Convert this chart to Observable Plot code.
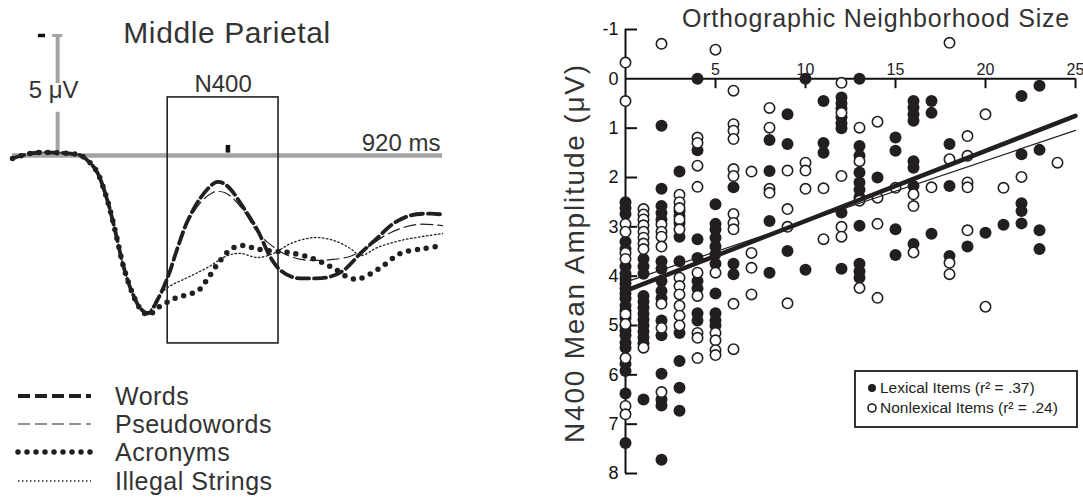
<!DOCTYPE html>
<html>
<head>
<meta charset="utf-8">
<script src="https://cdn.jsdelivr.net/npm/d3@7"></script>
<script src="https://cdn.jsdelivr.net/npm/@observablehq/plot@0.6"></script>
<style>
  html, body { margin: 0; padding: 0; background: #fff; }
  #wrap { position: relative; width: 1083px; height: 497px; background: #fff; overflow: hidden; }
  #left { position: absolute; left: 0; top: 0; }
  #right { position: absolute; left: 540px; top: 0; }
  #overlay { position: absolute; left: 0; top: 0; pointer-events: none; }
</style>
</head>
<body>
<div id="wrap">
  <div id="left"></div>
  <div id="right"></div>
  <svg id="overlay" width="1083" height="497"></svg>
</div>
<script>
const FONT = "'Liberation Sans', Arial, Helvetica, sans-serif";
const INK = "#231f20";

// ---------- Left panel: ERP waveforms (ms, µV; negative plotted up) ----------
const conditions = ["Words", "Pseudowords", "Acronyms", "Illegal Strings"];

const wordsMs  = [-108,-60,-10,30,55,79,96,119,139,158,179,198,217,239,263,287,311,342,370,382,395,413,444,478,509,533,564,605,645,683,724,765,803,843,891,920];
const wordsUv  = [0.12,-0.1,-0.12,-0.08,0,0.33,0.75,1.88,3.25,4.67,5.75,6.37,6.58,6.0,5.08,3.83,2.71,1.75,1.2,1.1,1.15,1.4,2.17,3.12,4.25,4.79,5.08,5.12,5.08,4.79,4.08,3.42,2.83,2.5,2.42,2.46];

const pseudoMs = [-108,-60,-10,30,55,79,96,119,139,158,179,198,217,239,263,287,311,342,370,382,400,420,444,478,502,540,581,621,660,700,741,779,820,860,920];
const pseudoUv = [0.12,-0.1,-0.12,-0.08,0,0.33,0.75,1.88,3.25,4.67,5.75,6.37,6.55,5.95,5.05,3.85,2.8,1.95,1.55,1.5,1.55,1.8,2.29,3.2,3.62,4.08,4.33,4.37,4.33,4.2,3.83,3.37,3.04,2.87,2.92];

const acroMs   = [-108,-60,-10,30,55,79,96,119,139,158,179,198,217,239,263,287,311,337,360,385,416,445,473,510,552,609,657,700,724,772,820,875,920];
const acroUv   = [0.12,-0.1,-0.12,-0.08,0,0.33,0.75,1.88,3.25,4.67,5.75,6.4,6.65,6.35,6.1,5.9,5.8,5.62,5.1,4.46,3.88,3.75,3.88,3.98,4.04,4.29,4.67,5.12,5.12,4.67,4.08,3.88,3.75];

const illegalMs = [-108,-60,-10,30,55,79,96,119,139,158,179,198,217,240,263,311,358,406,437,478,516,557,612,660,700,724,765,820,920];
const illegalUv = [0.12,-0.1,-0.12,-0.08,0,0.33,0.75,1.88,3.25,4.67,5.75,6.37,6.5,5.9,5.5,5.08,4.67,4.17,4.08,4.25,4.08,3.67,3.42,3.54,3.88,4.17,3.83,3.54,3.25];

const epochMs = [-108, 920];
const n400WindowMs = [263, 528];
const n400BoxUv = [-2.42, 7.83];
const scaleBarUv = [-5, 0];
const markerMs = [407];

const series = (ms, uv) => ms.map((t, i) => ({t, v: uv[i]}));
const words = series(wordsMs, wordsUv);
const pseudo = series(pseudoMs, pseudoUv);
const acro = series(acroMs, acroUv);
const illegal = series(illegalMs, illegalUv);

const lineStyles = {
  "Words":           {stroke: INK, strokeWidth: 3.8, strokeDasharray: "12,5"},
  "Pseudowords":     {stroke: INK, strokeWidth: 1.2, strokeDasharray: "12,5"},
  "Acronyms":        {stroke: INK, strokeWidth: 5.5, strokeDasharray: "0,9", strokeLinecap: "round"},
  "Illegal Strings": {stroke: INK, strokeWidth: 1.3, strokeDasharray: "1.5,2.5"}
};

const GRAY = "#a3a3a3";
const leftPlot = Plot.plot({
  width: 450, height: 360,
  marginTop: 0, marginRight: 0, marginBottom: 0, marginLeft: 0,
  style: {fontFamily: FONT, background: "transparent", overflow: "visible"},
  x: {domain: epochMs, range: [12, 442], axis: null},
  y: {domain: [-5, 8.5], range: [35, 359], axis: null},
  marks: [
    Plot.ruleY([0], {x1: epochMs[0], x2: epochMs[1], stroke: GRAY, strokeWidth: 4.5}),
    Plot.ruleX([0], {y1: scaleBarUv[0], y2: -3.0, stroke: GRAY, strokeWidth: 4}),
    Plot.ruleX([0], {y1: -1.8, y2: scaleBarUv[1], stroke: GRAY, strokeWidth: 4}),
    Plot.ruleY([scaleBarUv[0]], {x1: -12, x2: 12, stroke: GRAY, strokeWidth: 3}),
    Plot.ruleY([scaleBarUv[0]], {x1: -46, x2: -29, stroke: "#111", strokeWidth: 3.5}),
    Plot.text(["5 μV"], {x: 0, y: -2.71, dx: -4, text: d => d, fontSize: 24, fill: "#333", lineAnchor: "middle"}),
    Plot.rect([0], {x1: n400WindowMs[0], x2: n400WindowMs[1], y1: n400BoxUv[0], y2: n400BoxUv[1], fill: "none", stroke: "#222", strokeWidth: 1.6}),
    Plot.text(["N400"], {x: (n400WindowMs[0] + n400WindowMs[1]) / 2, y: -2.98, text: d => d, fontSize: 24, fill: "#333"}),
    Plot.ruleX(markerMs, {y1: -0.42, y2: -0.1, stroke: "#111", strokeWidth: 4.5}),
    Plot.text(["920 ms"], {x: 915, y: -0.5, text: d => d, textAnchor: "end", fontSize: 24, fill: "#333"}),
    Plot.line(illegal, {x: "t", y: "v", curve: "catmull-rom", ...lineStyles["Illegal Strings"]}),
    Plot.line(pseudo, {x: "t", y: "v", curve: "catmull-rom", ...lineStyles["Pseudowords"]}),
    Plot.line(acro, {x: "t", y: "v", curve: "catmull-rom", ...lineStyles["Acronyms"]}),
    Plot.line(words, {x: "t", y: "v", curve: "catmull-rom", ...lineStyles["Words"]})
  ]
});
document.getElementById("left").appendChild(leftPlot);

// ---------- Right panel: N400 amplitude vs orthographic neighborhood size ----------
// index = neighborhood size (0..24); values = N400 mean amplitude (µV)
const lexicalAmps = [
  [2.5,2.62,2.74,3.3,3.45,3.8,3.95,4.05,4.15,4.25,4.35,4.45,4.6,4.7,4.85,5.0,5.1,5.2,5.35,5.45,5.78,5.92,6.38,7.38],
  [3.65,3.8,3.95,4.4,4.52,4.64,4.76,4.88,5.0,5.12,5.24,5.36,6.5],
  [0.95,2.23,2.58,2.72,2.85,3.7,3.85,4.1,4.3,4.45,4.9,5.2,5.98,6.5,6.62,7.72],
  [1.88,2.68,2.78,2.92,3.2,3.7,5.15,5.72,6.26,6.73],
  [0,1.45,3.25,3.63,4.1,4.25,4.75,4.9],
  [2.54,2.94,3.05,3.22,3.4,3.55,3.75,4.35,4.75,4.9,5.0],
  [2.2,3.75,3.96],
  [],
  [1.24,1.87,2.88,3.93],
  [0.72,1.32,3.49],
  [0,3.87],
  [0.45,1.3,1.5],
  [0.38,0.5,0.6,0.78,0.9,1.0,2.71,3.85],
  [0,1.36,1.56,1.9,2.1,2.25,2.4,2.98,3.75,3.9,4.03],
  [2.0],
  [1.19,1.46,3.05,3.57],
  [0.45,0.58,0.72,0.85,1.67,1.8,2.17,3.35],
  [0.45,0.69,3.14],
  [1.32,2.17,3.59],
  [3.4],
  [3.12],
  [2.96],
  [0.35,1.53,2.52,2.68,2.93],
  [0.14,1.44,3.07,3.45],
  []
];
const nonlexicalAmps = [
  [-0.33,0.45,2.94,3.1,3.53,3.65,4.77,4.97,5.66,6.63,6.8],
  [2.64,2.75,2.85,2.97,3.1,3.22,3.34,3.45,5.45],
  [-0.71,2.95,3.1,3.2,3.4,4.56,5.05,6.35],
  [2.35,2.5,2.62,2.85,3.05,4.03,4.2,4.37,4.6,4.8,5.0],
  [1.19,1.3,1.76,2.19,3.93,4.4,5.15,5.25,5.66],
  [-0.59,3.93,5.15,5.3,5.5,5.6],
  [0.24,0.92,1.05,1.22,1.83,1.97,2.74,2.92,3.05,4.56,5.48],
  [1.88,3.53,3.83,4.37],
  [0.59,0.99,2.23,2.31],
  [1.86,2.64,3.0,4.55],
  [1.7,1.86,2.23],
  [2.22,3.25],
  [0.08,0.69,1.97,3.0,3.2],
  [0.99,1.67,2.47,4.24],
  [0.87,2.41,2.94,4.44],
  [2.21],
  [2.34,2.58,3.52],
  [2.2],
  [-0.73,1.63,3.73,3.96],
  [1.16,1.56,2.1,2.2,3.07],
  [0.72,4.62],
  [2.21],
  [1.99],
  [],
  [1.7]
];
const groups = ["Lexical Items (r² = .37)", "Nonlexical Items (r² = .24)"];
const fitIntercepts = [4.3, 4.12];
const fitSlopes = [-0.142, -0.123];
const xTicks = [5, 10, 15, 20, 25];
const yTicks = [-1, 0, 1, 2, 3, 4, 5, 6, 7, 8];
const nDomain = [0, 25];
const ampDomain = [-1, 8];

const toPoints = cols => cols.flatMap((vals, n) => vals.map(v => ({n, v})));
const lexicalPts = toPoints(lexicalAmps);
const nonlexicalPts = toPoints(nonlexicalAmps);
const fitLine = i => nDomain.map(n => ({n, v: fitIntercepts[i] + fitSlopes[i] * n}));

const rightPlot = Plot.plot({
  width: 543, height: 497,
  marginTop: 0, marginRight: 0, marginBottom: 0, marginLeft: 0,
  style: {fontFamily: FONT, background: "transparent", overflow: "visible"},
  x: {domain: nDomain, range: [85, 535], axis: null},
  y: {domain: ampDomain, range: [29, 473], axis: null},
  marks: [
    Plot.ruleX([0], {y1: ampDomain[0], y2: ampDomain[1], stroke: "#111", strokeWidth: 2}),
    Plot.ruleY([0], {x1: nDomain[0], x2: nDomain[1], stroke: "#111", strokeWidth: 2}),
    Plot.ruleY(yTicks.filter(d => d !== 0), {y: d => d, x1: 0, x2: 0.67, stroke: "#111", strokeWidth: 2}),
    Plot.ruleX(xTicks, {x: d => d, y1: 0, y2: 0.2, stroke: "#111", strokeWidth: 2}),
    Plot.text(yTicks, {x: 0, y: d => d, text: d => String(d), textAnchor: "end", dx: -7, fontSize: 18, fill: "#111"}),
    Plot.text(xTicks, {x: d => d, y: 0, text: d => String(d), lineAnchor: "bottom", dy: -4, fontSize: 16, fill: "#222"}),
    Plot.dot(lexicalPts, {x: "n", y: "v", r: 6, fill: INK, stroke: "none"}),
    Plot.dot(nonlexicalPts, {x: "n", y: "v", r: 5.2, fill: "#fff", stroke: INK, strokeWidth: 1.6}),
    Plot.line(fitLine(0), {x: "n", y: "v", stroke: INK, strokeWidth: 4.5}),
    Plot.line(fitLine(1), {x: "n", y: "v", stroke: INK, strokeWidth: 1.2})
  ]
});
document.getElementById("right").appendChild(rightPlot);

// ---------- Titles and legends ----------
const ov = d3.select("#overlay").style("font-family", FONT);

ov.append("text").attr("x", 227).attr("y", 43).attr("text-anchor", "middle")
  .attr("font-size", 30).attr("letter-spacing", 0.6).attr("fill", "#333").text("Middle Parietal");

ov.append("text").attr("x", 876).attr("y", 27).attr("text-anchor", "middle")
  .attr("font-size", 25).attr("letter-spacing", 0.8).attr("fill", "#333").text("Orthographic Neighborhood Size");

ov.append("text").attr("transform", "translate(584,253) rotate(-90)").attr("text-anchor", "middle")
  .attr("font-size", 28).attr("letter-spacing", 1.8).attr("fill", "#333").text("N400 Mean Amplitude (μV)");

// left legend
const legY = [396, 424, 452, 481];
conditions.forEach((c, i) => {
  const s = lineStyles[c];
  ov.append("line").attr("x1", 18).attr("x2", 91).attr("y1", legY[i]).attr("y2", legY[i])
    .attr("stroke", s.stroke).attr("stroke-width", s.strokeWidth)
    .attr("stroke-dasharray", s.strokeDasharray).attr("stroke-linecap", s.strokeLinecap || "butt");
  ov.append("text").attr("x", 115).attr("y", legY[i]).attr("dy", "0.35em")
    .attr("font-size", 25).attr("letter-spacing", 0.5).attr("fill", "#333").text(c);
});

// right legend
const lg = ov.append("g");
lg.append("rect").attr("x", 855).attr("y", 371).attr("width", 222).attr("height", 56)
  .attr("fill", "#fff").attr("stroke", "#333").attr("stroke-width", 2);
const rlY = [388, 408];
groups.forEach((g, i) => {
  lg.append("circle").attr("cx", 872).attr("cy", rlY[i]).attr("r", 4)
    .attr("fill", i === 0 ? INK : "#fff").attr("stroke", INK).attr("stroke-width", i === 0 ? 0 : 1.6);
  lg.append("text").attr("x", 880).attr("y", rlY[i]).attr("dy", "0.35em")
    .attr("font-size", 15.5).attr("fill", "#222").text(g);
});
</script>
</body>
</html>
